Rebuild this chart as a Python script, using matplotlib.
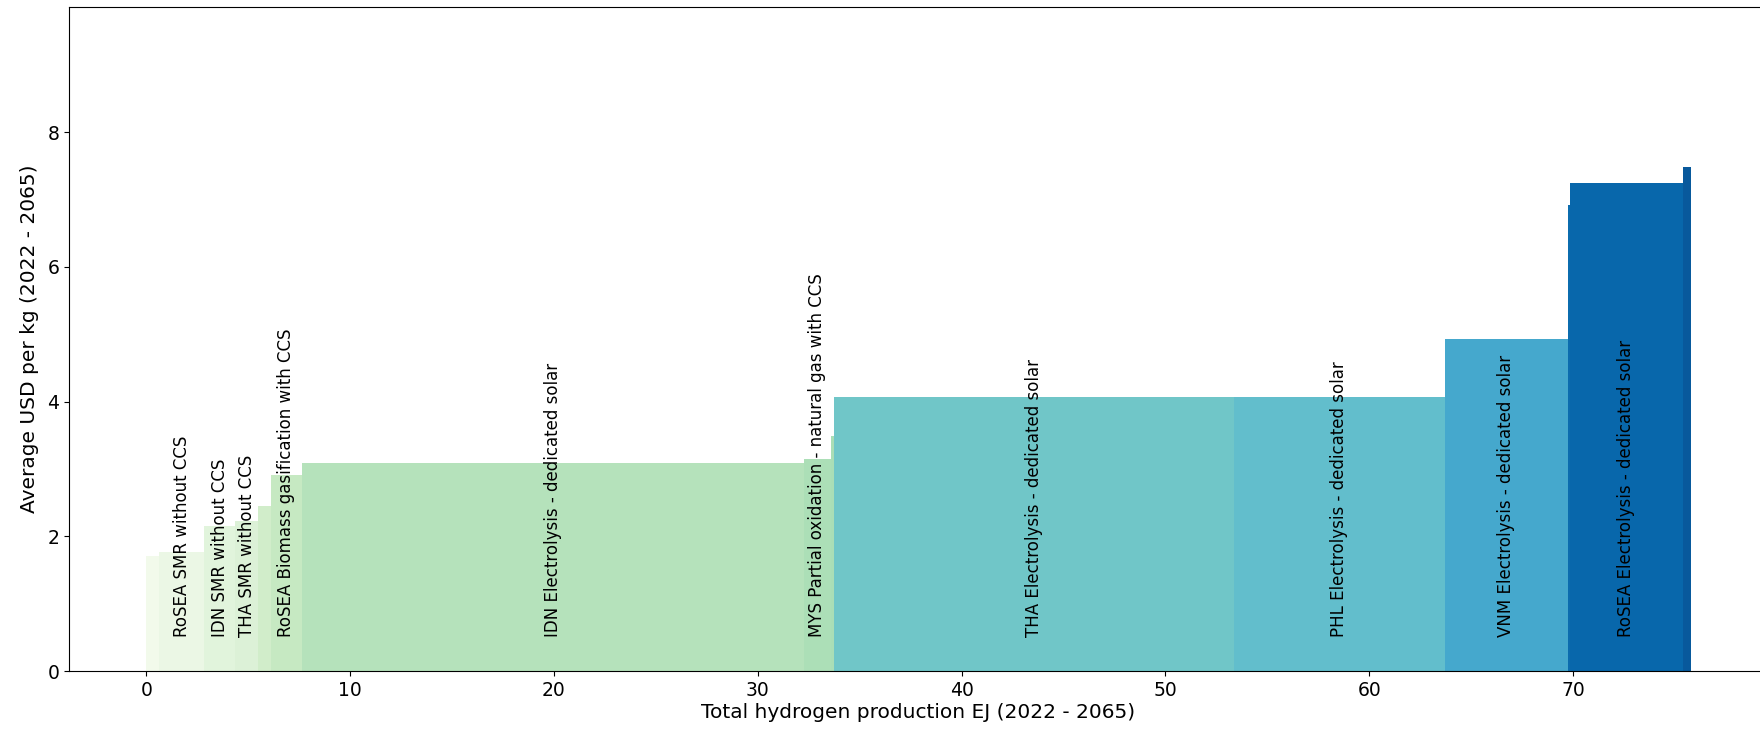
import matplotlib
matplotlib.use('Agg')
import matplotlib.pyplot as plt
import numpy as np

# production volume (EJ) and average cost (USD/kg) per technology, in merit order
produzione = [0.65, 2.20, 1.51, 1.14, 0.60, 1.52, 24.64, 1.34, 0.13, 19.62, 10.35, 6.05, 0.08, 5.58, 0.36]
costo = [1.70, 1.76, 2.15, 2.23, 2.45, 2.915, 3.09, 3.14, 3.49, 4.06, 4.07, 4.93, 6.91, 7.24, 7.48]
etichette = ['', 'RoSEA SMR without CCS', 'IDN SMR without CCS', 'THA SMR without CCS', '',
             'RoSEA Biomass gasification with CCS', 'IDN Electrolysis - dedicated solar',
             'MYS Partial oxidation - natural gas with CCS', '',
             'THA Electrolysis - dedicated solar', 'PHL Electrolysis - dedicated solar',
             'VNM Electrolysis - dedicated solar', '', 'RoSEA Electrolysis - dedicated solar', '']

# colour position in GnBu for each bar
pos_colore = [0.03, 0.07, 0.12, 0.15, 0.22, 0.27, 0.33, 0.36, 0.37, 0.53, 0.57, 0.66, 0.86, 0.875, 0.92]
colori = plt.cm.GnBu(pos_colore)

inizio = np.concatenate([[0], np.cumsum(produzione)[:-1]])

fig = plt.figure(figsize=(17.6, 7.36), dpi=100)
ax = fig.add_axes([0.0392, 0.0883, 0.9653, 0.9026])

ax.bar(inizio, costo, width=produzione, align='edge', color=colori)

for x0, w, lab in zip(inizio, produzione, etichette):
    if lab:
        ax.text(x0 + w / 2, 0.5, lab, rotation=90, ha='center', va='bottom', fontsize=12)

ax.set_ylim(0, 9.86)
ax.set_xlabel('Total hydrogen production EJ (2022 - 2065)', fontsize=14.5, labelpad=2)
ax.set_ylabel('Average USD per kg (2022 - 2065)', fontsize=14.5, labelpad=6)
ax.tick_params(labelsize=13.5)

fig.savefig('out.png', dpi=100)
